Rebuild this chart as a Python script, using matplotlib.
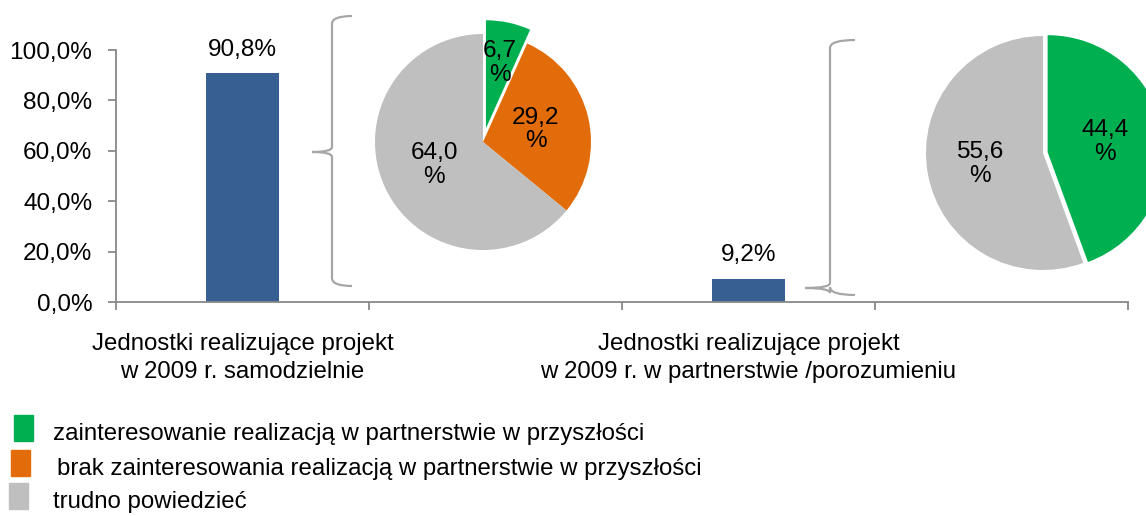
import matplotlib
matplotlib.use("Agg")
import matplotlib.pyplot as plt
import numpy as np
from matplotlib.path import Path
from matplotlib.patches import PathPatch, Rectangle

plt.rcParams["font.family"] = ["Liberation Sans", "DejaVu Sans"]

# data
categories = ["Jednostki realizujące projekt\nw 2009 r. samodzielnie", "",
              "Jednostki realizujące projekt\nw 2009 r. w partnerstwie /porozumieniu", ""]
bar_values = [90.8, None, 9.2, None]
yticks = [0, 20, 40, 60, 80, 100]

pie1_values = [6.7, 29.2, 64.0]
pie1_colors = ["#00B050", "#E36C0A", "#BFBFBF"]
pie2_values = [44.4, 55.6]
pie2_colors = ["#00B050", "#BFBFBF"]

legend_labels = ["zainteresowanie realizacją w partnerstwie w przyszłości",
                 "brak zainteresowania realizacją w partnerstwie w przyszłości",
                 "trudno powiedzieć"]
legend_colors = ["#00B050", "#E36C0A", "#BFBFBF"]

W, H = 1146, 516
BAR = "#385F91"
AXC = "#888888"
FS = 17.6
FS_TXT = 17.3


def px_axes(fig, cx, cy, half):
    """square axes centred on pixel (cx, cy) with half-size in px"""
    return fig.add_axes([(cx - half) / W, (H - cy - half) / H, 2 * half / W, 2 * half / H])


def fmt(v):
    return f"{v:.1f}".replace(".", ",")


fig = plt.figure(figsize=(W / 100, H / 100), dpi=100)

# ---- bar chart ----
ax = fig.add_axes([116 / W, (H - 302) / H, (1128 - 116) / W, (302 - 50) / H])
xs = [i for i, v in enumerate(bar_values) if v is not None]
vals = [v for v in bar_values if v is not None]
bars = ax.bar(xs, vals, width=0.285, color=BAR)
for b, v in zip(bars, vals):
    ax.text(b.get_x() + b.get_width() / 2, v + 5, fmt(v) + "%", ha="center", va="bottom",
            fontsize=FS, clip_on=False)
ax.set_xlim(-0.5, len(categories) - 0.5)
ax.set_ylim(0, 100)
ax.set_yticks(yticks)
ax.set_yticklabels([fmt(t) + "%" for t in yticks], fontsize=FS)
ax.set_xticks([i - 0.5 for i in range(len(categories) + 1)])
ax.set_xticklabels([])
ax.set_xticks(range(len(categories)), minor=True)
ax.set_xticklabels(categories, minor=True, fontsize=FS_TXT, linespacing=1.35)
ax.tick_params(axis="x", which="minor", length=0, pad=22)
ax.tick_params(axis="x", which="major", length=6, color=AXC, width=1.3)
ax.tick_params(axis="y", length=6, color=AXC, width=1.3, pad=11)
for s in ["top", "right"]:
    ax.spines[s].set_visible(False)
for s in ["left", "bottom"]:
    ax.spines[s].set_color(AXC)
    ax.spines[s].set_linewidth(1.3)


# ---- pies ----
def draw_pie(cx, cy, r, values, colors, explode, dists):
    pa = px_axes(fig, cx, cy, r * 1.2)
    wedges, _ = pa.pie(values, colors=colors, startangle=90, counterclock=False,
                       explode=explode, radius=1)
    pa.set_xlim(-1.2, 1.2)
    pa.set_ylim(-1.2, 1.2)
    pa.set_aspect("equal")
    pa.axis("off")
    for w, v, d, e in zip(wedges, values, dists, explode):
        a = np.deg2rad((w.theta1 + w.theta2) / 2)
        pa.text((d + e) * np.cos(a), (d + e) * np.sin(a), fmt(v) + "\n%", ha="center",
                va="center", fontsize=FS, linespacing=1.1)
    return pa


draw_pie(483, 142, 108, pie1_values, pie1_colors, [0.13, 0, 0], [0.62, 0.5, 0.5])
draw_pie(1043, 153, 117, pie2_values, pie2_colors, [0.04, 0], [0.5, 0.55])

# ---- overlay: braces + legend ----
ov = fig.add_axes([0, 0, 1, 1])
ov.set_xlim(0, W)
ov.set_ylim(H, 0)
ov.axis("off")
ov.patch.set_visible(False)


def brace(x, top, bot, tip_y, hook, tip):
    c = Path.CURVE3
    verts = [(x + hook, top), (x, top), (x, top + 8),
             (x, tip_y - 5), (x, tip_y), (x - tip, tip_y),
             (x, tip_y), (x, tip_y + 5),
             (x, bot - 8), (x, bot), (x + hook, bot)]
    codes = [Path.MOVETO, c, c, Path.LINETO, c, c, c, c, Path.LINETO, c, c]
    ov.add_patch(PathPatch(Path(verts, codes), fc="none", ec="#A6A6A6", lw=1.6))


brace(332, 16, 286, 152, 20, 20)
brace(830, 40, 295, 288, 25, 25)

sq_x = [14, 11, 9]
tx_x = [53, 57, 53]
rows = [428, 463, 496]
for lab, col, sx, tx, y in zip(legend_labels, legend_colors, sq_x, tx_x, rows):
    ov.add_patch(Rectangle((sx, y - 13), 19, 26, color=col))
    ov.text(tx, y + 6, lab, ha="left", va="center", fontsize=FS_TXT)

fig.savefig("out.png", dpi=100)
